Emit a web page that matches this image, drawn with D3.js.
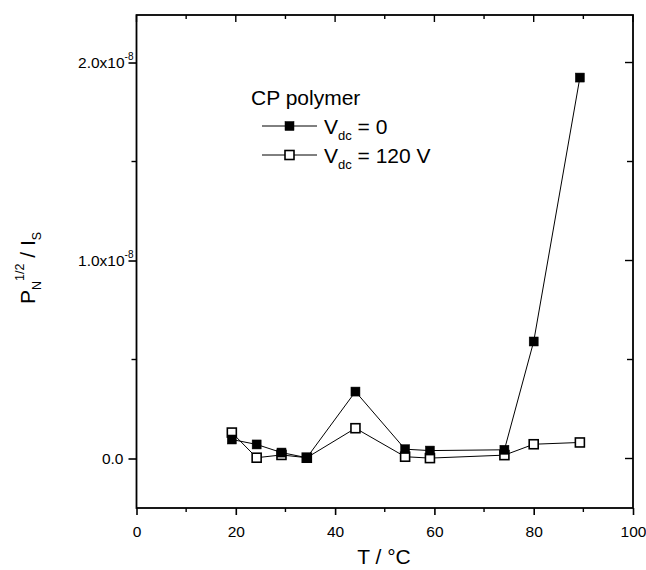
<!DOCTYPE html>
<html><head><meta charset="utf-8">
<script src="https://cdn.jsdelivr.net/npm/d3@7"></script>
<style>body{margin:0;background:#fff}svg{display:block}text{font-family:"Liberation Sans",Arial,sans-serif;fill:#000}</style>
</head><body><svg id="c" width="646" height="570"></svg>
<script>
// Data (T in °C, P_N^{1/2}/I_S)
const temps = [19.2, 24.2, 29.2, 34.3, 44.1, 54.1, 59.1, 74.1, 80.0, 89.3];
const vdc0 = [0.096e-8, 0.071e-8, 0.030e-8, 0.004e-8, 0.338e-8, 0.047e-8, 0.040e-8, 0.044e-8, 0.591e-8, 1.924e-8];
const vdc120 = [0.131e-8, 0.004e-8, 0.018e-8, 0.004e-8, 0.153e-8, 0.009e-8, 0.002e-8, 0.017e-8, 0.072e-8, 0.081e-8];
const xMajor = [0, 20, 40, 60, 80, 100];
const xMinor = [10, 30, 50, 70, 90];
const yMajor = [0, 1e-8, 2e-8];
const yMinor = [0.5e-8, 1.5e-8];
const seriesNames = ["= 0", "= 120 V"];

const svg = d3.select("#c");
const L = 136.5, R = 633, T = 15, B = 508;
const x = d3.scaleLinear().domain([0, 100]).range([L, R]);
const y = d3.scaleLinear().domain([-0.25e-8, 2.24e-8]).range([B, T]);

// frame
svg.append("rect").attr("x", L).attr("y", T).attr("width", R - L).attr("height", B - T)
  .attr("fill", "none").attr("stroke", "#000").attr("stroke-width", 1.8);

// bottom axis (outward ticks)
const gB = svg.append("g").attr("transform", `translate(0,${B})`);
gB.call(d3.axisBottom(x).tickValues(xMajor).tickSize(7).tickPadding(11).tickFormat(d => d))
  .call(g => g.select(".domain").remove())
  .call(g => g.selectAll("line").attr("stroke-width", 1.6))
  .call(g => g.selectAll("text").attr("font-size", 15.5).style("font-family", "Liberation Sans, Arial, sans-serif"));
gB.selectAll(".minor").data(xMinor).enter().append("line").attr("class", "minor")
  .attr("x1", d => x(d)).attr("x2", d => x(d)).attr("y1", 0).attr("y2", 4).attr("stroke", "#000").attr("stroke-width", 1.4);

// top axis (inward ticks)
const gT = svg.append("g").attr("transform", `translate(0,${T})`);
gT.selectAll("line").data(xMajor.concat(xMinor)).enter().append("line")
  .attr("x1", d => x(d)).attr("x2", d => x(d)).attr("y1", 0).attr("y2", d => xMajor.includes(d) ? 7 : 4)
  .attr("stroke", "#000").attr("stroke-width", 1.4);

// left axis (outward ticks)
const gL = svg.append("g").attr("transform", `translate(${L},0)`);
gL.call(d3.axisLeft(y).tickValues(yMajor).tickSize(8).tickFormat(""))
  .call(g => g.select(".domain").remove())
  .call(g => g.selectAll("line").attr("stroke-width", 1.6));
gL.selectAll(".minor").data(yMinor).enter().append("line").attr("class", "minor")
  .attr("x1", 0).attr("x2", -5).attr("y1", d => y(d)).attr("y2", d => y(d)).attr("stroke", "#000").attr("stroke-width", 1.4);
// y tick labels
yMajor.forEach(d => {
  if (d === 0) {
    gL.append("text").attr("x", -13).attr("y", y(d) + 5.5).attr("text-anchor", "end").attr("font-size", 15.5).text("0.0");
  } else {
    const t = gL.append("text").attr("x", -3).attr("y", y(d) + 5.5).attr("text-anchor", "end").attr("font-size", 15.5);
    t.append("tspan").text((d / 1e-8).toFixed(1) + "x10");
    t.append("tspan").attr("dy", -8).attr("font-size", 10).text("-8");
  }
});

// right axis (inward ticks)
const gR = svg.append("g").attr("transform", `translate(${R},0)`);
gR.selectAll("line").data(yMajor.concat(yMinor)).enter().append("line")
  .attr("x1", 0).attr("x2", d => yMajor.includes(d) ? -8 : -6).attr("y1", d => y(d)).attr("y2", d => y(d))
  .attr("stroke", "#000").attr("stroke-width", 1.4);

// axis titles
svg.append("text").attr("x", 384).attr("y", 564).attr("text-anchor", "middle").attr("font-size", 21).text("T / °C");
const yt = svg.append("text").attr("transform", "translate(35,268) rotate(-90)").attr("text-anchor", "middle").attr("font-size", 21);
yt.append("tspan").text("P");
yt.append("tspan").attr("dy", 6).attr("font-size", 12.5).text("N");
yt.append("tspan").attr("dy", -17).attr("font-size", 12.5).text("1/2");
yt.append("tspan").attr("dy", 11).text(" / I");
yt.append("tspan").attr("dy", 6).attr("font-size", 12.5).text("S");

// lines and markers
const line = d3.line().x((d, i) => x(temps[i])).y(d => y(d));
const ms = 9;
function drawSeries(vals, filled) {
  svg.append("path").attr("d", line(vals)).attr("fill", "none").attr("stroke", "#000").attr("stroke-width", 1);
  svg.selectAll(null).data(vals).enter().append("rect")
    .attr("x", (d, i) => x(temps[i]) - ms / 2).attr("y", d => y(d) - ms / 2)
    .attr("width", ms).attr("height", ms)
    .attr("fill", filled ? "#000" : "#fff").attr("stroke", "#000").attr("stroke-width", filled ? 0.5 : 1.6);
}
drawSeries(vdc120, false);
drawSeries(vdc0, true);

// legend
svg.append("text").attr("x", 251).attr("y", 105).attr("font-size", 21).text("CP polymer");
[true, false].forEach((filled, k) => {
  const ly = 126 + k * 29;
  svg.append("line").attr("x1", 262).attr("x2", 317).attr("y1", ly).attr("y2", ly).attr("stroke", "#000").attr("stroke-width", 1);
  svg.append("rect").attr("x", 289.5 - ms / 2).attr("y", ly - ms / 2).attr("width", ms).attr("height", ms)
    .attr("fill", filled ? "#000" : "#fff").attr("stroke", "#000").attr("stroke-width", filled ? 0.5 : 1.6);
  const t = svg.append("text").attr("x", 324).attr("y", ly + 8).attr("font-size", 21);
  t.append("tspan").text("V");
  t.append("tspan").attr("dy", 6).attr("font-size", 13).text("dc");
  t.append("tspan").attr("dy", -6).text(" " + seriesNames[k]);
});
</script></body></html>
